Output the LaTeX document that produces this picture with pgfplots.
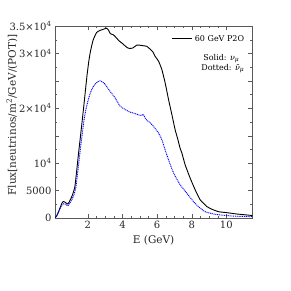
\documentclass[border=0pt]{standalone}
\usepackage{fontspec}
\setmainfont{DejaVu Serif}
\usepackage{pgfplots}
\pgfplotsset{compat=1.18}
\begin{document}
\begin{tikzpicture}
\useasboundingbox (-55pt,-73pt) rectangle (236pt,218pt);
\begin{axis}[
  at={(0,0)}, anchor=south west,
  scale only axis, width=197.3pt, height=192pt,
  xmin=0.1, xmax=11.5, ymin=0, ymax=35000,
  scaled y ticks=false, scaled x ticks=false,
  axis line style={black!65},
  tick style={black!65},
  tick align=inside,
  major tick length=4pt, minor tick length=2pt,
  xtick={2,4,6,8,10}, xticklabels={2,4,6,8,10},
  minor x tick num=3,
  ytick={0,5000,10000,15000,20000,25000,30000,35000},
  yticklabels={0,5000,10\textsuperscript{4},,2×10\textsuperscript{4},,3×10\textsuperscript{4},3.5×10\textsuperscript{4}},
  minor y tick num=1,
  tick label style={font=\fontsize{10}{12}\selectfont, text=black!85},
  xlabel={E (GeV)},
  ylabel={Flux[neutrinos/m\textsuperscript{2}/GeV/(POT)]},
  label style={font=\fontsize{10.5}{12}\selectfont, text=black!85},
  xlabel style={at={(axis description cs:0.5,-0.115)}, anchor=center},
  ylabel style={at={(axis description cs:-0.218,0.537)}, anchor=center},
  legend style={at={(1,1)}, anchor=north east, xshift=-3pt, yshift=-5pt, draw=none, fill=none,
    font=\fontsize{8}{9}\selectfont},
  legend image code/.code={\draw[#1] (0pt,0pt) -- (20pt,0pt);},
]
\addplot[black, line width=0.9pt, smooth, tension=0.3] coordinates {
(0.1,0) (0.2,400) (0.28,970) (0.42,2070) (0.5,2700) (0.57,3000) (0.65,2950) (0.75,2700) (0.84,2550) (0.95,3100) (1.07,3900) (1.15,4600) (1.25,5730) (1.35,8500) (1.45,11500) (1.55,14300) (1.65,17100) (1.75,20000) (1.85,23000) (1.95,26000) (2.05,28500) (2.15,30400) (2.3,32400) (2.5,33800) (2.7,34200) (2.9,34400) (3.08,34600) (3.2,34200) (3.3,33600) (3.47,33400) (3.6,33000) (3.8,32300) (4.0,31800) (4.14,31400) (4.3,31000) (4.43,30900) (4.6,31000) (4.82,31500) (5.0,31500) (5.2,31400) (5.4,31300) (5.59,30800) (5.75,30300) (5.88,29500) (6.08,28600) (6.27,27100) (6.46,24700) (6.66,21600) (6.85,18900) (7.04,16100) (7.2,14300) (7.33,12700) (7.43,11850) (7.62,9700) (7.91,7270) (8.2,5130) (8.49,3300) (8.68,2690) (8.88,2070) (9.17,1590) (9.55,1150) (10.04,970) (10.6,730) (11.2,550) (11.5,450)
};
\addlegendentry{60 GeV P2O}
\addplot[blue, line width=0.9pt, dash pattern=on 1pt off 0.8pt, smooth, tension=0.3, forget plot] coordinates {
(0.1,0) (0.2,350) (0.28,900) (0.42,1900) (0.5,2350) (0.6,2600) (0.7,2500) (0.84,2250) (0.95,2700) (1.07,3300) (1.2,4300) (1.3,5500) (1.4,8000) (1.5,10800) (1.6,13500) (1.7,16000) (1.8,18300) (1.9,20000) (2.0,21300) (2.12,22600) (2.25,23600) (2.41,24400) (2.6,24900) (2.7,25000) (2.85,24800) (2.99,24400) (3.28,23100) (3.57,21900) (3.86,20400) (4.14,19800) (4.43,19300) (4.72,19050) (5.01,18700) (5.11,18700) (5.2,18900) (5.3,18300) (5.4,17800) (5.59,17400) (5.79,16700) (6.08,15500) (6.27,14300) (6.46,12450) (6.66,10600) (6.95,8200) (7.33,6050) (7.72,4500) (8.1,3000) (8.39,2070) (8.78,1150) (9.26,730) (9.84,490) (10.5,330) (11.5,250)
};
\node[anchor=north west, align=left, font=\fontsize{8}{10}\selectfont, inner sep=0pt] at (axis cs:8.55,29900) {\hspace*{2pt}Solid: \textit{ν}\textsubscript{\textit{μ}}\\Dotted: \textit{ν̄}\textsubscript{\textit{μ}}};
\end{axis}
\end{tikzpicture}
\end{document}
